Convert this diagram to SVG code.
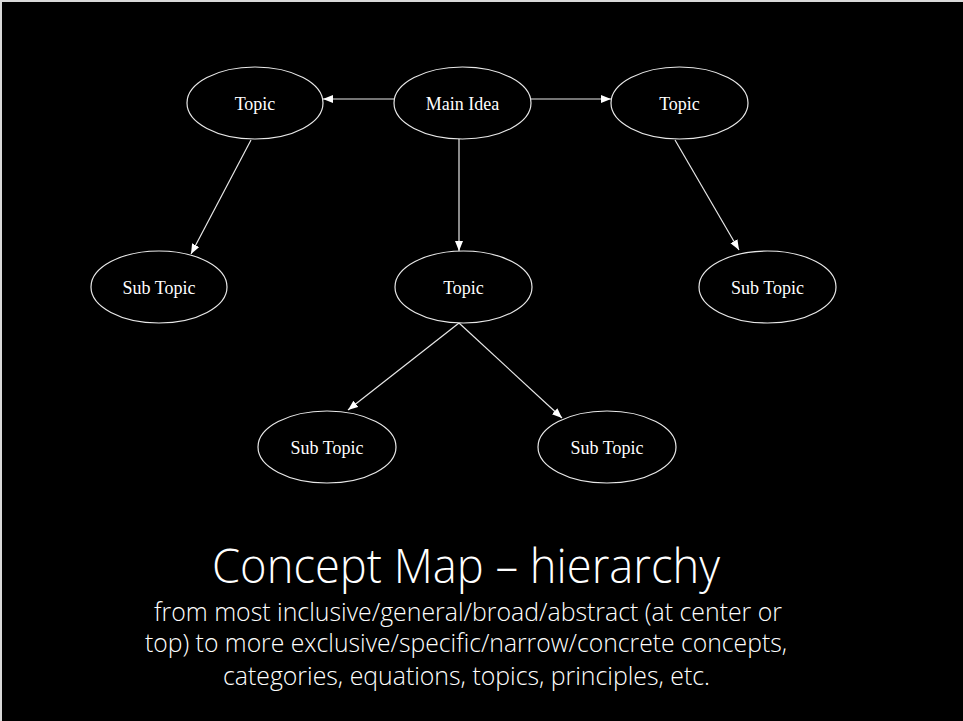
<svg xmlns="http://www.w3.org/2000/svg" width="963" height="721" viewBox="0 0 963 721">
  <defs>
    <marker id="arr" markerUnits="userSpaceOnUse" markerWidth="12" markerHeight="10" refX="10" refY="4" orient="auto">
      <path d="M0,0 L10,4 L0,8 Z" fill="#ffffff"/>
    </marker>
    <style>
      .node ellipse { fill: #000; stroke: #e8e8e8; stroke-width: 1.2; }
      .node text { font-family: "Liberation Serif", "Times New Roman", serif; font-size: 18px; fill: #ffffff; text-anchor: middle; }
      .edge { stroke: #e8e8e8; stroke-width: 1.2; fill: none; marker-end: url(#arr); }
      .title { font-family: "Open Sans", "Noto Sans", sans-serif; font-weight: 300; fill: #ffffff; text-anchor: middle; }
    </style>
  </defs>
  <rect x="0" y="0" width="963" height="721" fill="#d9d9d9"/>
  <rect x="2" y="2" width="961" height="719" fill="#000000"/>

  <g id="connectors">
    <line class="edge" x1="394" y1="99" x2="323" y2="99"/>
    <line class="edge" x1="531" y1="99" x2="611" y2="99"/>
    <line class="edge" x1="459" y1="139" x2="459" y2="251"/>
    <line class="edge" x1="251" y1="140" x2="191" y2="254"/>
    <line class="edge" x1="675" y1="140" x2="739" y2="250"/>
    <line class="edge" x1="459" y1="323" x2="348" y2="410"/>
    <line class="edge" x1="459" y1="323" x2="562" y2="418"/>
  </g>

  <g id="main-idea" class="node">
    <ellipse cx="462.5" cy="103" rx="68.5" ry="36"/>
    <text x="462.5" y="110">Main Idea</text>
  </g>
  <g id="topic-left" class="node">
    <ellipse cx="255" cy="103" rx="68" ry="36"/>
    <text x="255" y="110">Topic</text>
  </g>
  <g id="topic-right" class="node">
    <ellipse cx="679.5" cy="103" rx="68.5" ry="36"/>
    <text x="679.5" y="110">Topic</text>
  </g>
  <g id="topic-center" class="node">
    <ellipse cx="463.5" cy="287" rx="68.5" ry="36"/>
    <text x="463.5" y="294">Topic</text>
  </g>
  <g id="subtopic-left" class="node">
    <ellipse cx="159" cy="287" rx="68" ry="36"/>
    <text x="159" y="294">Sub Topic</text>
  </g>
  <g id="subtopic-right" class="node">
    <ellipse cx="767.5" cy="287" rx="68.5" ry="36"/>
    <text x="767.5" y="294">Sub Topic</text>
  </g>
  <g id="subtopic-bottom-left" class="node">
    <ellipse cx="327" cy="447" rx="69" ry="36"/>
    <text x="327" y="454">Sub Topic</text>
  </g>
  <g id="subtopic-bottom-right" class="node">
    <ellipse cx="607" cy="447" rx="69" ry="36"/>
    <text x="607" y="454">Sub Topic</text>
  </g>

  <g id="caption">
    <text class="title" x="466" y="583" font-size="48" textLength="508" lengthAdjust="spacingAndGlyphs">Concept Map – hierarchy</text>
    <text class="title" x="468" y="621" font-size="25" font-weight="400" textLength="628" lengthAdjust="spacingAndGlyphs">from most inclusive/general/broad/abstract (at center or</text>
    <text class="title" x="466" y="652" font-size="25" font-weight="400" textLength="642" lengthAdjust="spacingAndGlyphs">top) to more exclusive/specific/narrow/concrete concepts,</text>
    <text class="title" x="466.5" y="685" font-size="25" font-weight="400" textLength="487" lengthAdjust="spacingAndGlyphs">categories, equations, topics, principles, etc.</text>
  </g>
</svg>
